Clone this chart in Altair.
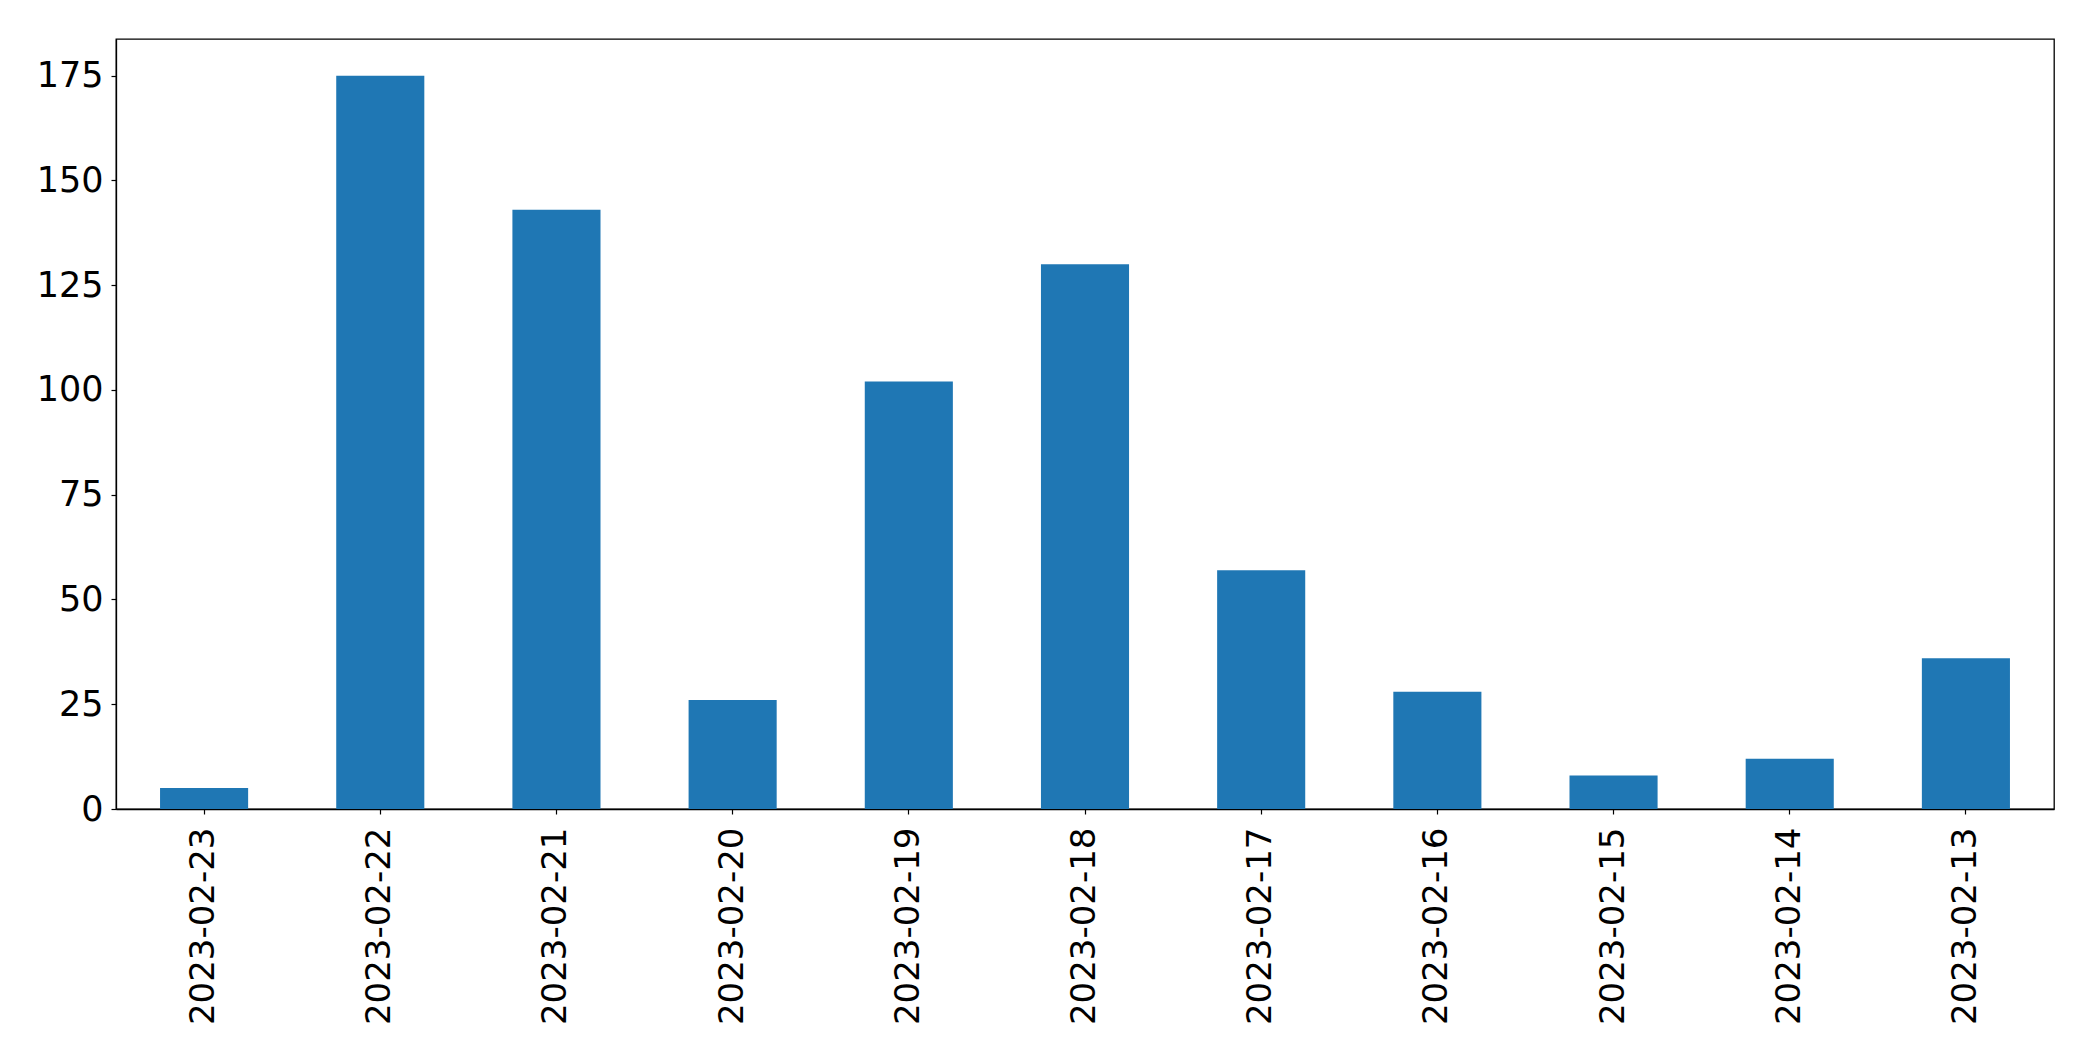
import altair as alt
import pandas as pd

dates = ["2023-02-23", "2023-02-22", "2023-02-21", "2023-02-20", "2023-02-19",
         "2023-02-18", "2023-02-17", "2023-02-16", "2023-02-15", "2023-02-14",
         "2023-02-13"]
counts = [5, 175, 143, 26, 102, 130, 57, 28, 8, 12, 36]

df = pd.DataFrame({"date": dates, "count": counts})

FONT = "DejaVu Sans"
FS = 34

chart = alt.Chart(df).mark_bar(color="#1f77b4").encode(
    x=alt.X("date:N", sort=None, title=None,
            scale=alt.Scale(paddingInner=0.5, paddingOuter=0.25),
            axis=alt.Axis(labelAngle=270, labelAlign="right", labelBaseline="middle",
                          labelFont=FONT, labelFontSize=FS, labelColor="black",
                          labelLimit=1000,
                          tickColor="black", tickSize=5, tickWidth=1.2,
                          labelPadding=13, domainColor="black", domainWidth=1.3,
                          grid=False)),
    y=alt.Y("count:Q", title=None,
            scale=alt.Scale(domain=[0, 183.75], nice=False, zero=True),
            axis=alt.Axis(values=[0, 25, 50, 75, 100, 125, 150, 175],
                          labelFont=FONT, labelFontSize=35, labelColor="black",
                          tickColor="black", tickSize=5, tickWidth=1.2,
                          labelPadding=8, domainColor="black", domainWidth=1.3,
                          grid=False)),
).properties(
    width=1938, height=770,
    autosize=alt.AutoSizeParams(type="none"),
    padding={"left": 108, "top": 31, "right": 30, "bottom": 230},
    background="white",
).configure_view(
    stroke="black", strokeWidth=1.3
)

chart.save("out.html", embed_options={"renderer": "svg", "actions": False})
